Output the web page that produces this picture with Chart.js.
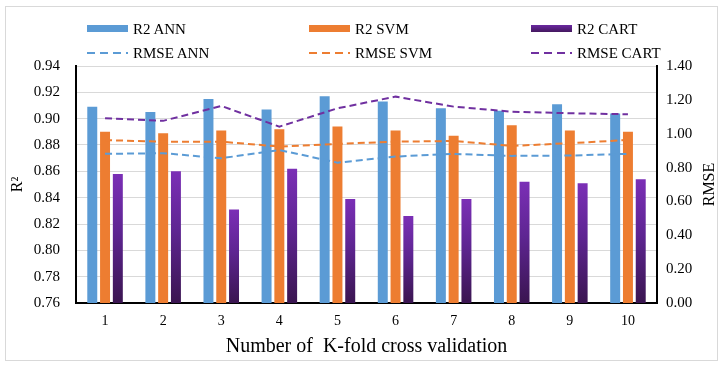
<!DOCTYPE html>
<html>
<head>
<meta charset="utf-8">
<script src="https://cdn.jsdelivr.net/npm/chart.js@4/dist/chart.umd.min.js"></script>
<style>
  html, body { margin: 0; padding: 0; background: #fff; }
  #wrap { position: relative; width: 726px; height: 367px; overflow: hidden; }
  #frame { position: absolute; left: 5px; top: 6px; width: 713px; height: 355px; border: 1px solid #d9d9d9; box-sizing: border-box; }
  canvas { position: absolute; left: 0; top: 0; }
  .leg { position: absolute; font-family: "Liberation Serif", "Times New Roman", serif; font-size: 15px; color: #000; white-space: nowrap; line-height: 18px; }
  .sw { position: absolute; line-height: 0; }
  .sw svg { display: block; }
</style>
</head>
<body>
<div id="wrap">
  <div id="frame"></div>
  <canvas id="c" width="726" height="367"></canvas>
  <div id="legend"></div>
</div>
<script>
const categories = ['1', '2', '3', '4', '5', '6', '7', '8', '9', '10'];
const r2Ann  = [0.909, 0.905, 0.915, 0.907, 0.917, 0.913, 0.908, 0.906, 0.911, 0.904];
const r2Svm  = [0.890, 0.889, 0.891, 0.892, 0.894, 0.891, 0.887, 0.895, 0.891, 0.890];
const r2Cart = [0.858, 0.860, 0.831, 0.862, 0.839, 0.826, 0.839, 0.852, 0.851, 0.854];
const rmseAnn  = [0.881, 0.885, 0.855, 0.904, 0.829, 0.865, 0.881, 0.869, 0.871, 0.881];
const rmseSvm  = [0.962, 0.953, 0.953, 0.924, 0.940, 0.953, 0.957, 0.928, 0.944, 0.963];
const rmseCart = [1.091, 1.076, 1.164, 1.042, 1.150, 1.219, 1.160, 1.130, 1.121, 1.115];
const seriesNames = ['R2 ANN', 'R2 SVM', 'R2 CART', 'RMSE ANN', 'RMSE SVM', 'RMSE CART'];
const leftTitle = 'R\u00B2';
const rightTitle = 'RMSE';
const xTitle = 'Number of  K-fold cross validation';

const BLUE = '#5B9BD5', ORANGE = '#ED7D31', PURPLE = '#7030A0';
const FONT = '"Liberation Serif", "Times New Roman", serif';

function cartGradient(ctx) {
  const chart = ctx.chart;
  const area = chart.chartArea;
  if (!area || ctx.parsed === undefined || ctx.parsed === null) return PURPLE;
  const y = chart.scales.y;
  const top = y.getPixelForValue(ctx.parsed.y);
  const g = chart.ctx.createLinearGradient(0, top, 0, area.bottom);
  g.addColorStop(0, '#7B2FB6');
  g.addColorStop(0.45, '#5E2592');
  g.addColorStop(1, '#3A1550');
  return g;
}

const rightTitlePlugin = {
  id: 'rightTitle',
  afterDraw(chart) {
    const c = chart.ctx;
    const area = chart.chartArea;
    c.save();
    c.font = '16px ' + FONT;
    c.fillStyle = '#000';
    c.textAlign = 'center';
    c.textBaseline = 'middle';
    c.translate(710, (area.top + area.bottom) / 2);
    c.rotate(-Math.PI / 2);
    c.fillText(rightTitle, 0, 0);
    c.restore();
  }
};

const barCommon = { categoryPercentage: 0.66, barPercentage: 0.78, yAxisID: 'y', order: 2 };
const lineCommon = { yAxisID: 'y2', borderWidth: 2, borderDash: [7, 4], pointRadius: 0, pointHoverRadius: 0, tension: 0, fill: false, order: 0 };

new Chart(document.getElementById('c'), {
  type: 'bar',
  data: {
    labels: categories,
    datasets: [
      Object.assign({ type: 'bar', label: seriesNames[0], data: r2Ann, backgroundColor: BLUE }, barCommon),
      Object.assign({ type: 'bar', label: seriesNames[1], data: r2Svm, backgroundColor: ORANGE }, barCommon),
      Object.assign({ type: 'bar', label: seriesNames[2], data: r2Cart, backgroundColor: cartGradient }, barCommon),
      Object.assign({ type: 'line', label: seriesNames[3], data: rmseAnn, borderColor: BLUE }, lineCommon),
      Object.assign({ type: 'line', label: seriesNames[4], data: rmseSvm, borderColor: ORANGE }, lineCommon),
      Object.assign({ type: 'line', label: seriesNames[5], data: rmseCart, borderColor: PURPLE }, lineCommon)
    ]
  },
  options: {
    responsive: false,
    animation: false,
    layout: { padding: { top: 66, left: 0, right: 0, bottom: 0 } },
    plugins: { legend: { display: false }, tooltip: { enabled: false } },
    scales: {
      x: {
        grid: { display: false, drawTicks: false },
        border: { display: true, color: '#000', width: 2 },
        ticks: { font: { family: FONT, size: 14 }, color: '#000', padding: 10 },
        title: { display: true, text: xTitle, font: { family: FONT, size: 20 }, color: '#000', padding: { top: 0, bottom: 8 } },
        afterFit(s) { s.height = 64; }
      },
      y: {
        position: 'left',
        min: 0.76, max: 0.94,
        ticks: { stepSize: 0.02, font: { family: FONT, size: 15 }, color: '#000', padding: 16,
                 callback: v => Number(v).toFixed(2) },
        grid: { color: '#d9d9d9', lineWidth: 1, drawTicks: false },
        border: { display: true, color: '#000', width: 2 },
        title: { display: true, text: leftTitle, font: { family: FONT, size: 16 }, color: '#000', padding: { top: 8, bottom: 0 } },
        afterFit(s) { s.width = 76; }
      },
      y2: {
        position: 'right',
        min: 0, max: 1.4,
        ticks: { stepSize: 0.2, font: { family: FONT, size: 15 }, color: '#000', padding: 9,
                 callback: v => Number(v).toFixed(2) },
        grid: { display: false, drawTicks: false },
        border: { display: true, color: '#000', width: 2 },
        afterFit(s) { s.width = 69; }
      }
    }
  },
  plugins: [rightTitlePlugin]
});

// HTML legend in a 3 x 2 grid
const legend = document.getElementById('legend');
const colX = [87, 309, 531];
const rowY = [29, 53];
const colors = [BLUE, ORANGE, PURPLE];
seriesNames.forEach((name, i) => {
  const col = i % 3, row = Math.floor(i / 3);
  const sw = document.createElement('div');
  sw.className = 'sw';
  sw.style.left = colX[col] + 'px';
  if (row === 0) {
    sw.style.top = (rowY[row] - 4) + 'px';
    sw.style.width = '41px';
    sw.style.height = '7px';
    sw.style.background = col === 2 ? 'linear-gradient(#6A28A0, #44185F)' : colors[col];
  } else {
    sw.style.top = (rowY[row] - 2) + 'px';
    sw.innerHTML = '<svg width="41" height="4"><line x1="0" y1="2" x2="41" y2="2" stroke="' + colors[col] +
      '" stroke-width="2.2" stroke-dasharray="8 5"/></svg>';
  }
  legend.appendChild(sw);
  const t = document.createElement('div');
  t.className = 'leg';
  t.style.left = (colX[col] + 46) + 'px';
  t.style.top = (rowY[row] - 9) + 'px';
  t.textContent = name;
  legend.appendChild(t);
});
</script>
</body>
</html>
